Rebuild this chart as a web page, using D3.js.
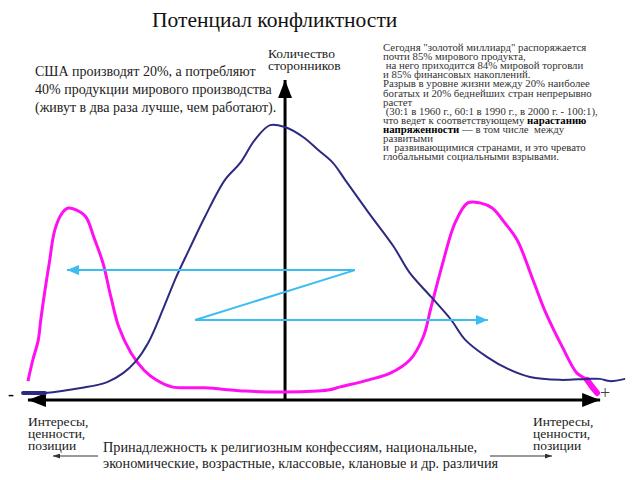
<!DOCTYPE html>
<html><head><meta charset="utf-8">
<script src="https://cdn.jsdelivr.net/npm/d3@7"></script>
<style>html,body{margin:0;padding:0;background:#fff}svg{display:block}
svg text{font-family:"Liberation Serif","Tinos","Times New Roman","Noto Serif","DejaVu Serif",serif;}</style>
</head><body>
<script>
// ---- data (position on the "interests" axis 0..100, number of supporters 0..100)
const blueX = [0.5,4.1,10.2,14.3,16.9,18.9,21.0,23.6,25.6,27.7,30.3,33.6,36.1,38.5,41.0,43.4,46.4,48.9,51.3,53.3,57.2,61.3,63.9,67.4,70.7,73.0,76.6,80.0,83.6,88.5,93.0,95.1,96.7,99.2];
const blueY = [2.2,2.2,3.8,5.6,8.4,11.9,17.8,29.1,38.4,46.9,57.2,68.8,74.1,81.3,85.9,85.3,82.2,78.1,74.1,68.8,58.4,47.8,39.7,32.2,25.0,18.8,13.4,9.7,7.2,6.3,6.6,6.6,5.9,6.6];
const pinkX = [1.3,2.1,3.0,3.4,4.1,4.8,5.7,6.9,7.9,9.2,10.8,12.1,13.6,14.9,16.2,18.2,20.3,22.3,24.9,30.3,37.0,43.6,50.5,52.5,57.2,60.7,63.9,66.1,67.4,69.3,71.3,73.4,75.4,77.4,79.5,81.5,84.1,86.2,88.9,91.3,92.95,93.8,94.6];
const pinkY = [5.9,12.5,18.8,25.0,34.4,42.8,53.1,58.4,60.0,59.4,57.2,50.9,42.8,32.2,22.8,14.7,9.4,6.3,4.1,3.8,2.8,2.5,3.1,4.1,6.3,8.4,12.5,19.7,29.1,42.8,55.3,61.6,61.6,60.0,55.3,50.0,37.5,27.2,16.6,8.4,6.3,4.1,2.2];
const zigX = [7.7,54.9,28.7,76.7];
const zigY = [40.6,40.6,25.0,25.0];
const axisEnds = {xMin:1.3, xMax:95.1, xMid:43.45, yTop:100};

const title = "Потенциал конфликтности";
const usaText = ["США производят 20%, а потребляют","40% продукции мирового производства","(живут в два раза лучше, чем работают)."];
const yLabel = ["Количество","сторонников"];
const infoText = [
 [["Сегодня \"золотой миллиард\" распоряжается",0]],
 [["почти 85% мирового продукта,",0]],
 [["\u00a0на него приходится 84% мировой торговли",0]],
 [["и 85% финансовых накоплений.",0]],
 [["Разрыв в уровне жизни между 20% наиболее",0]],
 [["богатых и 20% беднейших стран непрерывно",0]],
 [["растет",0]],
 [["\u00a0(30:1 в 1960 г., 60:1 в 1990 г., в 2000 г. - 100:1),",0]],
 [["что ведет к соответствующему ",0],["нарастанию",1]],
 [["напряженности",1],[" — в том числе  между",0]],
 [["развитыми",0]],
 [["и  развивающимися странами, и это чревато",0]],
 [["глобальными социальными взрывами.",0]]
];
const sideLabel = ["Интересы,","ценности,","позиции"];
const bottomText = ["Принадлежность к религиозным конфессиям, национальные,","экономические, возрастные, классовые, клановые  и др. различия"];

const W = 640, H = 480;
const svg = d3.select("body").append("svg").attr("width",W).attr("height",H);
const x = d3.scaleLinear().domain([0,100]).range([20,630]);
const y = d3.scaleLinear().domain([0,100]).range([400,80]);

const defs = svg.append("defs");
function marker(id, color, w, h){
  defs.append("marker").attr("id",id).attr("viewBox",`0 0 ${w} ${h}`)
    .attr("refX",w).attr("refY",h/2).attr("markerWidth",w).attr("markerHeight",h)
    .attr("markerUnits","userSpaceOnUse").attr("orient","auto-start-reverse")
    .append("path").attr("d",`M0,0L${w},${h/2}L0,${h}Z`).attr("fill",color);
}
marker("axHead","#000",18,14);
marker("cyHead","#3cbdf0",12,10);
marker("smHead","#333",7,5);

// title
svg.append("text").attr("x",152).attr("y",27).attr("font-size",21.5).attr("fill","#111").text(title);

// axes
svg.append("line").attr("x1",x(axisEnds.xMin)).attr("x2",x(axisEnds.xMax)).attr("y1",y(0)).attr("y2",y(0))
  .attr("stroke","#000").attr("stroke-width",3)
  .attr("marker-start","url(#axHead)").attr("marker-end","url(#axHead)");
svg.append("line").attr("x1",x(axisEnds.xMid)).attr("x2",x(axisEnds.xMid)).attr("y1",y(0)).attr("y2",y(axisEnds.yTop))
  .attr("stroke","#000").attr("stroke-width",3).attr("marker-end","url(#axHead)");

const line = d3.line().x(d=>x(d[0])).y(d=>y(d[1])).curve(d3.curveCatmullRom.alpha(0.5));

// magenta curve
const pink = pinkX.map((v,i)=>[v,pinkY[i]]);
svg.append("path").attr("d",line(pink)).attr("fill","none").attr("stroke","#ff10f0").attr("stroke-width",3).attr("stroke-linejoin","round");
svg.append("path").attr("d",line(pink.slice(-3))).attr("fill","none").attr("stroke","#ff10f0").attr("stroke-width",6).attr("stroke-linecap","round");

// blue curve
const blue = blueX.map((v,i)=>[v,blueY[i]]);
svg.append("path").attr("d",line(blue)).attr("fill","none").attr("stroke","#2c2a80").attr("stroke-width",2).attr("stroke-linejoin","round");
svg.append("path").attr("d",line(blue.slice(0,2))).attr("fill","none").attr("stroke","#2c2a80").attr("stroke-width",4).attr("stroke-linecap","round");

// cyan zig-zag arrows
const zig = zigX.map((v,i)=>[x(v),y(zigY[i])]);
svg.append("path").attr("d",d3.line()([zig[1],zig[0]])).attr("stroke","#3cbdf0").attr("stroke-width",2).attr("marker-end","url(#cyHead)");
svg.append("path").attr("d",d3.line()([zig[1],zig[2],zig[3]])).attr("fill","none").attr("stroke","#3cbdf0").attr("stroke-width",2).attr("marker-end","url(#cyHead)");

// texts
const usa = svg.append("text").attr("font-size",14).attr("fill","#222");
usaText.forEach((t,i)=>usa.append("tspan").attr("x",35).attr("y",76+i*18).text(t));

const yl = svg.append("text").attr("font-size",13.5).attr("fill","#222");
yLabel.forEach((t,i)=>yl.append("tspan").attr("x",268).attr("y",58+i*12).text(t));

const info = svg.append("text").attr("font-size",10.8).attr("fill","#333").attr("xml:space","preserve");
infoText.forEach((parts,i)=>{
  parts.forEach((p,j)=>{
    const ts = info.append("tspan").text(p[0]).attr("font-weight",p[1]?"bold":"normal").attr("fill",p[1]?"#000":"#333");
    if(j===0) ts.attr("x",383).attr("y",51+i*9.1);
  });
});

[28,533].forEach(lx=>{
  const t = svg.append("text").attr("font-size",13.5).attr("fill","#222");
  sideLabel.forEach((s,i)=>t.append("tspan").attr("x",lx).attr("y",426+i*12).text(s));
});

const bt = svg.append("text").attr("font-size",14.3).attr("fill","#222");
bottomText.forEach((s,i)=>bt.append("tspan").attr("x",103).attr("y",452+i*16).text(s));

svg.append("line").attr("x1",98).attr("x2",53).attr("y1",456).attr("y2",456).attr("stroke","#333").attr("stroke-width",1).attr("marker-end","url(#smHead)");
svg.append("line").attr("x1",490).attr("x2",552).attr("y1",456).attr("y2",456).attr("stroke","#333").attr("stroke-width",1).attr("marker-end","url(#smHead)");

svg.append("text").attr("x",8).attr("y",400).attr("font-size",18).text("-");
svg.append("text").attr("x",600).attr("y",399).attr("font-size",18).attr("fill","#444").text("+");
</script>
</body></html>
